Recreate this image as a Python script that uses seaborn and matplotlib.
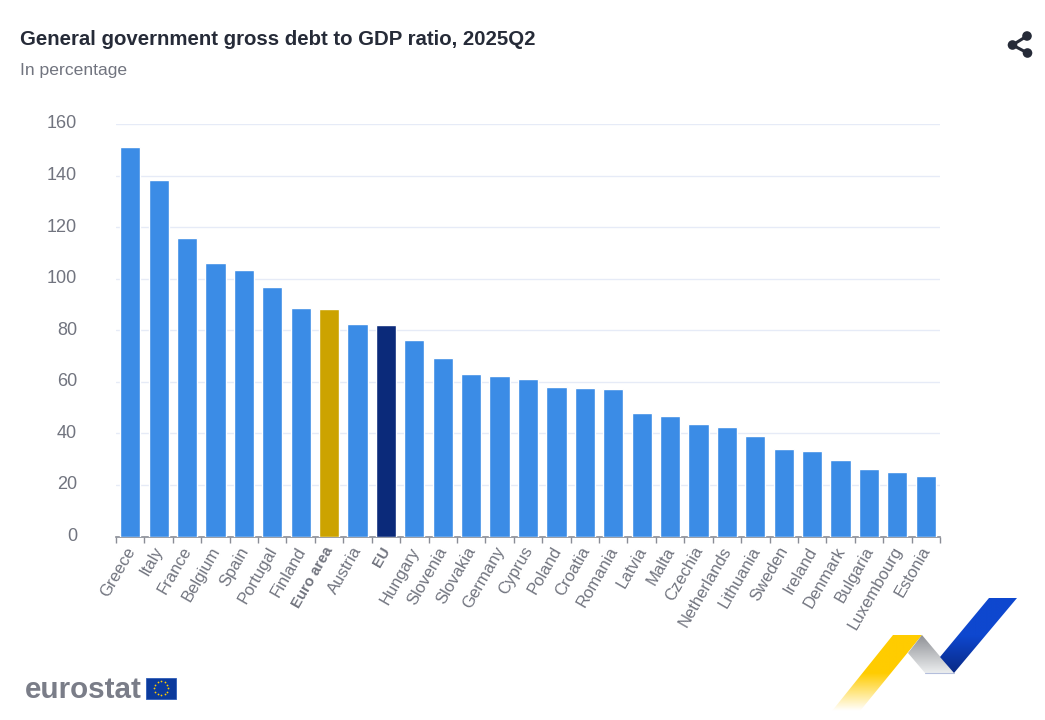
import numpy as np
import pandas as pd
import matplotlib
matplotlib.use('Agg')
import matplotlib.pyplot as plt
import seaborn as sns
from matplotlib.patches import Polygon, Rectangle, Circle
from matplotlib.colors import LinearSegmentedColormap
from matplotlib.transforms import ScaledTranslation

countries = ['Greece', 'Italy', 'France', 'Belgium', 'Spain', 'Portugal', 'Finland', 'Euro area',
             'Austria', 'EU', 'Hungary', 'Slovenia', 'Slovakia', 'Germany', 'Cyprus', 'Poland',
             'Croatia', 'Romania', 'Latvia', 'Malta', 'Czechia', 'Netherlands', 'Lithuania',
             'Sweden', 'Ireland', 'Denmark', 'Bulgaria', 'Luxembourg', 'Estonia']
debt = [151.2, 138.3, 115.8, 106.2, 103.4, 96.8, 88.6, 88.2, 82.4, 81.9, 76.2, 69.4, 62.9, 62.4,
        61.2, 58.1, 57.5, 57.3, 48.0, 46.9, 43.7, 42.6, 39.0, 34.0, 33.3, 29.7, 26.3, 25.1, 23.3]
yticks = [0, 20, 40, 60, 80, 100, 120, 140, 160]

BLUE = '#3b8ce6'
GOLD = '#cca300'
NAVY = '#0b2a7a'
GREY = '#71747f'
DARK = '#262b38'

sns.set_theme(style='white')
plt.rcParams['font.family'] = ['Liberation Sans', 'DejaVu Sans']

W, H = 1045, 720
fig = plt.figure(figsize=(W / 100, H / 100), dpi=100)
ax = fig.add_axes([116 / W, 1 - 536.5 / H, 824 / W, 412.5 / H])

df = pd.DataFrame({'country': countries, 'debt': debt})
palette = {c: BLUE for c in countries}
palette['Euro area'] = GOLD
palette['EU'] = NAVY
sns.barplot(data=df, x='country', y='debt', hue='country', palette=palette, legend=False,
            width=0.71, saturation=1, ax=ax, zorder=3)

ax.set_xlim(-0.5, len(countries) - 0.5)
ax.set_ylim(0, 160)
ax.set_xlabel('')
ax.set_ylabel('')
ax.set_yticks(yticks)
ax.yaxis.grid(True, color='#e6ebf7', lw=1, zorder=0)
ax.set_axisbelow(True)
for s in ['top', 'right', 'left']:
    ax.spines[s].set_visible(False)
ax.spines['bottom'].set_color('#8a8d96')
ax.spines['bottom'].set_linewidth(1.2)

# ticks sit between the bars
ax.set_xticks(np.arange(len(countries) + 1) - 0.5, minor=True)
ax.set_xticks(np.arange(len(countries)))
ax.tick_params(axis='x', which='minor', length=4, width=1, color='#8a8d96', bottom=True)
ax.tick_params(axis='x', which='major', length=0, pad=5.5)
ax.tick_params(axis='y', length=0, pad=28, labelsize=13, labelcolor=GREY)
ylab_shift = ScaledTranslation(0, 2 / 100, fig.dpi_scale_trans)
for lab in ax.get_yticklabels():
    lab.set_ha('right')
    lab.set_transform(lab.get_transform() + ylab_shift)
ax.set_xticklabels(countries, rotation=60, ha='right', rotation_mode='anchor',
                   fontsize=12, color=GREY)
xlab_shift = ScaledTranslation(-5.5 / 100, 0, fig.dpi_scale_trans)
for lab in ax.get_xticklabels():
    lab.set_transform(lab.get_transform() + xlab_shift)
    if lab.get_text() in ('Euro area', 'EU'):
        lab.set_fontweight('bold')
        lab.set_fontsize(10.7)

fig.text(20 / W, 1 - 39.5 / H, 'General government gross debt to GDP ratio, 2025Q2', fontsize=14.7,
         fontweight='bold', color=DARK, va='center')
fig.text(20 / W, 1 - 70 / H, 'In percentage', fontsize=12.6, color=GREY, va='center')

# overlay in pixel coords for icon and logos
ov = fig.add_axes([0, 0, 1, 1], zorder=5)
ov.set_xlim(0, W)
ov.set_ylim(H, 0)
ov.axis('off')
ov.patch.set_alpha(0)

# share icon
nodes = [(1012.5, 45), (1027, 36), (1027.5, 53)]
for n in nodes[1:]:
    ov.plot([nodes[0][0], n[0]], [nodes[0][1], n[1]], color=DARK, lw=2.2)
for n in nodes:
    ov.add_patch(Circle(n, 4.8, color=DARK, lw=0))

# eurostat logo
ov.text(25, 698, 'eurostat', fontsize=21.3, fontweight='bold', color='#7a7d88', va='baseline', ha='left')
ov.add_patch(Rectangle((146, 677.5), 30, 21, facecolor='#0b3a9c', edgecolor='#2f5db8', lw=0.6))
angles = np.deg2rad(np.arange(0, 360, 30))
ov.scatter(161 + 7 * np.cos(angles), 688.2 + 7 * np.sin(angles), s=1.6, color='#ffcc00', lw=0, zorder=6)


def ribbon(pts, colors, y0, y1):
    cmap = LinearSegmentedColormap.from_list('r', colors)
    xs = [p[0] for p in pts]
    ys = [p[1] for p in pts]
    grad = np.linspace(0, 1, 200).reshape(-1, 1)
    im = ov.imshow(grad, cmap=cmap, extent=(min(xs), max(xs), y1, y0), aspect='auto',
                   interpolation='bilinear', zorder=4)
    poly = Polygon(pts, closed=True, transform=ov.transData, fc='none', ec='none')
    ov.add_patch(poly)
    im.set_clip_path(poly)


ribbon([(893, 635), (922, 635), (860, 711), (832, 711)], ['#ffcc00', '#ffcc00', '#ffffff'], 635, 711)
ribbon([(922, 635), (954, 673), (925, 673), (908, 653)], ['#8f9196', '#eceeef'], 635, 673)
ribbon([(989, 598), (1017, 598), (954, 673), (940, 657)], ['#0e47cf', '#0e47cf', '#0a2a85'], 598, 673)
ov.plot([925, 954], [673, 673], color='#b4bedc', lw=0.8, zorder=4)
ov.set_xlim(0, W)
ov.set_ylim(H, 0)

fig.savefig('out.png', dpi=100, facecolor='white')
